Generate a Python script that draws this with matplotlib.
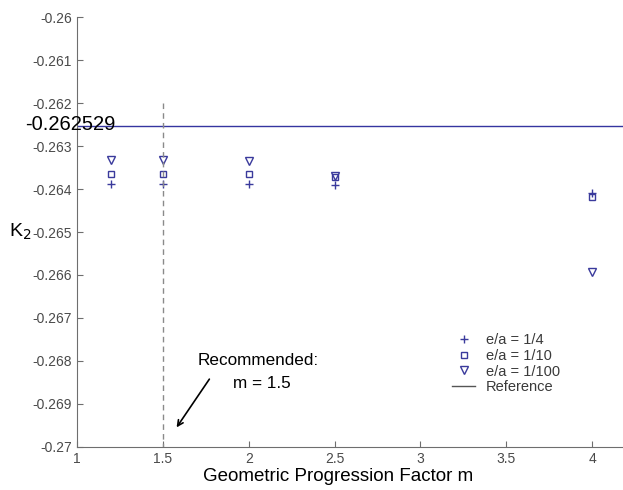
"""K2 vs geometric progression factor m, with reference value."""

import matplotlib

matplotlib.use("Agg")
import matplotlib.pyplot as plt

FONT = ["Liberation Sans", "DejaVu Sans"]
MARKER_COLOR = "#3a3a9c"
AXIS_COLOR = "#6e6e6e"

m_values = [1.2, 1.5, 2.0, 2.5, 4.0]
k2_quarter = [-0.26388, -0.26388, -0.26388, -0.26390, -0.26410]
k2_tenth = [-0.26365, -0.26365, -0.26365, -0.26372, -0.26418]
k2_hundredth = [-0.26333, -0.26333, -0.26335, -0.26370, -0.26593]
reference_k2 = -0.262529
recommended_m = 1.5

x_ticks = [1, 1.5, 2, 2.5, 3, 3.5, 4]
y_ticks = [-0.27, -0.269, -0.268, -0.267, -0.266, -0.265, -0.264, -0.263, -0.262, -0.261, -0.26]

plt.rcParams["font.family"] = FONT

figure = plt.figure(figsize=(6.23, 4.9), dpi=100)
axis = figure.add_axes([0.1236, 0.088, 0.8764, 0.877])

axis.plot(m_values, k2_quarter, linestyle="none", marker="+", markersize=6,
          markeredgewidth=1.0, color=MARKER_COLOR, label="e/a = 1/4")
axis.plot(m_values, k2_tenth, linestyle="none", marker="s", markersize=5,
          markeredgewidth=1.0, markerfacecolor="none", color=MARKER_COLOR,
          label="e/a = 1/10")
axis.plot(m_values, k2_hundredth, linestyle="none", marker="v", markersize=6,
          markeredgewidth=1.0, markerfacecolor="none", color=MARKER_COLOR,
          label="e/a = 1/100")
axis.axhline(reference_k2, color="#3535a0", linewidth=1.0, label="Reference")
axis.plot([recommended_m, recommended_m], [-0.262, -0.27], color="#8a8a8a",
          linestyle=(0, (4, 3)), linewidth=1.0)

axis.set_xlim(1, 4.18)
axis.set_ylim(-0.27, -0.26)
axis.set_xticks(x_ticks, [f"{tick:g}" for tick in x_ticks])
axis.set_yticks(y_ticks, [f"{tick:g}" for tick in y_ticks])
axis.tick_params(direction="in", length=4, color=AXIS_COLOR, labelcolor="#4a4a4a",
                 labelsize=10)
for side in ("top", "right"):
    axis.spines[side].set_visible(False)
for side in ("left", "bottom"):
    axis.spines[side].set_color(AXIS_COLOR)

axis.set_xlabel("Geometric Progression Factor m", fontsize=13.5, va="center")
axis.xaxis.set_label_coords(0.478, -0.07)
figure.text(0.015, 0.527, "K$_2$", fontsize=14, va="center", ha="left")
figure.text(25 / 623, 1 - 125 / 490, f"{reference_k2}", fontsize=14.5,
            ha="left", va="center")

axis.annotate("", xy=(1.571, -0.2696), xytext=(1.78, -0.26837),
              arrowprops=dict(arrowstyle="->", color="black", linewidth=1.2))
axis.text(1.70, -0.26800, "Recommended:", fontsize=12.3, ha="left", va="center")
axis.text(1.91, -0.26853, "m = 1.5", fontsize=12.3, ha="left", va="center")

legend = axis.legend(loc="upper left", bbox_to_anchor=(452 / 623, 1 - 333 / 490),
                     bbox_transform=figure.transFigure, frameon=False,
                     fontsize=10.5, handlelength=1.6, labelspacing=0.12,
                     handletextpad=0.7, borderpad=0, borderaxespad=0)
for text in legend.get_texts():
    text.set_color("#3a3a3a")
legend.get_lines()[3].set_color("#555555")

figure.savefig("out.png", dpi=100)
